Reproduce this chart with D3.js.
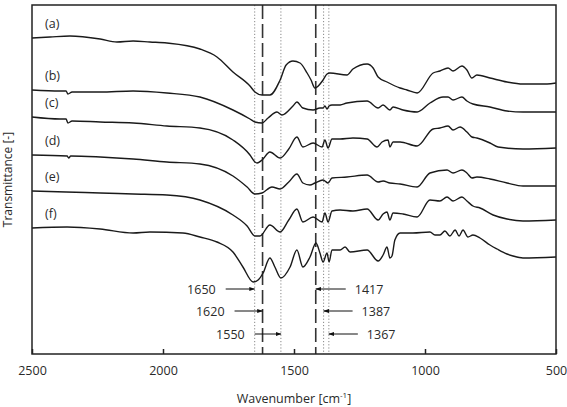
<!DOCTYPE html>
<html><head><meta charset="utf-8">
<script src="https://cdn.jsdelivr.net/npm/d3@7"></script>
<style>
body{margin:0;background:#fff}
svg{display:block}
text{font-family:"Open Sans",sans-serif;fill:#2a2a2a}
</style>
</head><body>
<svg id="chart" width="567" height="407"></svg>
<script>
// ---------- data (wavenumber cm-1, transmittance in arbitrary offset units) ----------
const xTicks = [2500, 2000, 1500, 1000, 500];
const seriesLabels = ["(a)", "(b)", "(c)", "(d)", "(e)", "(f)"];

const spectrumA = [[2500,316],[2431,317],[2355,318],[2240,315],[2176,312],[2114,313],[2050,312],[1985,311],[1859,305],[1794,297],[1733,282],[1668,268],[1649,262],[1622,259],[1592,259],[1553,274],[1530,289],[1504,293],[1477,291],[1450,281],[1435,274],[1420,266],[1389,274],[1374,280],[1363,281],[1298,279],[1275,285],[1221,290],[1198,286],[1179,277],[1145,272],[1095,266],[1069,264],[1030,261],[969,281],[943,283],[912,286],[893,283],[859,288],[840,284],[821,276],[802,279],[752,276],[687,272],[626,270],[534,270],[500,271]];
const spectrumB = [[2500,264],[2393,263],[2370,263],[2363,260],[2347,262],[2240,262],[2114,263],[1985,261],[1859,257],[1733,244],[1668,235],[1649,232],[1622,231],[1599,236],[1565,242],[1546,239],[1504,248],[1489,252],[1466,246],[1427,244],[1401,246],[1389,246],[1382,248],[1374,245],[1366,248],[1355,249],[1324,249],[1298,251],[1221,253],[1179,246],[1160,249],[1134,244],[1122,247],[1084,244],[1030,242],[981,251],[931,257],[912,257],[893,254],[859,257],[840,253],[817,250],[752,247],[687,243],[626,242],[500,242]];
const spectrumC = [[2500,237],[2393,235],[2370,235],[2363,231],[2347,233],[2240,232],[2114,231],[1985,228],[1859,226],[1733,214],[1668,199],[1649,192],[1641,191],[1622,194],[1592,202],[1553,196],[1520,205],[1489,217],[1466,207],[1427,211],[1393,207],[1382,214],[1370,206],[1355,215],[1324,215],[1275,216],[1221,215],[1183,207],[1164,212],[1141,214],[1134,207],[1122,212],[1095,212],[1030,208],[969,225],[943,226],[912,228],[893,224],[866,227],[840,222],[821,217],[802,216],[752,211],[721,207],[626,205],[500,206]];
const spectrumD = [[2500,199],[2366,198],[2360,196],[2352,198],[2240,197],[2114,195],[1985,192],[1859,190],[1733,178],[1679,167],[1649,160],[1622,161],[1584,167],[1553,165],[1520,172],[1489,180],[1466,171],[1439,169],[1420,171],[1389,174],[1382,173],[1370,171],[1355,176],[1298,177],[1221,179],[1179,172],[1160,173],[1134,171],[1095,170],[1030,167],[981,181],[916,184],[893,181],[859,184],[840,181],[821,176],[802,177],[752,175],[687,171],[626,168],[500,168]];
const spectrumE = [[2500,163],[2370,162],[2240,161],[2114,160],[1985,159],[1859,154],[1733,139],[1679,128],[1649,118],[1630,118],[1592,129],[1553,122],[1520,134],[1489,145],[1466,132],[1427,137],[1393,132],[1382,141],[1370,132],[1355,143],[1324,144],[1275,143],[1221,145],[1179,134],[1160,140],[1145,142],[1134,134],[1122,141],[1084,140],[1030,137],[981,154],[943,153],[916,157],[893,153],[859,157],[840,153],[817,148],[790,146],[740,139],[687,135],[626,133],[500,134]];
const spectrumF = [[2500,126],[2366,127],[2240,125],[2114,121],[2050,122],[1924,121],[1859,117],[1794,112],[1733,102],[1695,87],[1656,72],[1637,74],[1618,81],[1592,96],[1573,87],[1550,76],[1515,87],[1489,104],[1466,87],[1439,97],[1416,111],[1401,101],[1389,92],[1374,101],[1366,92],[1355,104],[1324,104],[1305,107],[1286,102],[1221,104],[1179,93],[1160,99],[1145,107],[1134,96],[1126,98],[1115,114],[1095,121],[1046,121],[981,122],[962,119],[943,119],[924,123],[905,118],[885,124],[870,118],[855,124],[836,117],[817,119],[790,116],[752,109],[725,105],[687,100],[664,98],[626,96],[500,97]];
const spectra = [spectrumA, spectrumB, spectrumC, spectrumD, spectrumE, spectrumF];

const peakLines  = [1650, 1620, 1550, 1417, 1387, 1367];
const peakStyles = ["dot", "dash", "dot", "dash", "dot", "dot"];
const peakLabels = ["1650", "1620", "1550", "1417", "1387", "1367"];

// ---------- layout ----------
const svg = d3.select("#chart");
const m = {left: 32, right: 11, top: 5, bottom: 53};
const W = 567, H = 407;
const x = d3.scaleLinear().domain([2500, 500]).range([m.left, W - m.right]);
const y = d3.scaleLinear().domain([0, 349]).range([H - m.bottom, m.top]);

// peak marker lines
svg.append("g").selectAll("line").data(peakLines).join("line")
  .attr("x1", d => x(d)).attr("x2", d => x(d))
  .attr("y1", y(349)).attr("y2", y(0))
  .attr("stroke", (d, i) => peakStyles[i] === "dash" ? "#333" : "#888")
  .attr("stroke-width", (d, i) => peakStyles[i] === "dash" ? 1.6 : 1)
  .attr("stroke-dasharray", (d, i) => peakStyles[i] === "dash" ? "14,5" : "1.2,2");

// spectra
const line = d3.line().x(d => x(d[0])).y(d => y(d[1])).curve(d3.curveMonotoneX);
svg.append("g").selectAll("path").data(spectra).join("path")
  .attr("d", line).attr("fill", "none").attr("stroke", "#1a1a1a")
  .attr("stroke-width", 1.4).attr("stroke-linejoin", "round");

// series labels
svg.append("g").selectAll("text").data(spectra).join("text")
  .attr("x", 45).attr("y", d => y(d[0][1]) - 10)
  .attr("font-size", 12.5).text((d, i) => seriesLabels[i]);

// frame
svg.append("rect").attr("x", m.left).attr("y", m.top)
  .attr("width", W - m.left - m.right).attr("height", H - m.top - m.bottom)
  .attr("fill", "none").attr("stroke", "#222").attr("stroke-width", 1.5);

// x axis (ticks inward)
const xAxis = d3.axisBottom(x).tickValues(xTicks).tickFormat(d3.format("d"))
  .tickSizeInner(-5).tickSizeOuter(0).tickPadding(12);
const gx = svg.append("g").attr("transform", `translate(0,${H - m.bottom})`).call(xAxis);
gx.select(".domain").remove();
gx.selectAll(".tick line").attr("stroke", "#222").attr("stroke-width", 1.5);
gx.selectAll(".tick text").attr("font-size", 12.5).attr("font-family", "Open Sans, sans-serif").attr("fill", "#2a2a2a");

// axis titles
const xt = svg.append("text").attr("x", (m.left + W - m.right) / 2).attr("y", 403)
  .attr("text-anchor", "middle").attr("font-size", 12.5);
xt.append("tspan").text("Wavenumber [cm");
xt.append("tspan").attr("font-size", 8).attr("dy", -5).text("-1");
xt.append("tspan").attr("dy", 5).text("]");
svg.append("text").attr("transform", `translate(12,${(m.top + H - m.bottom) / 2}) rotate(-90)`)
  .attr("text-anchor", "middle").attr("font-size", 12).text("Transmittance [-]");

// annotations with arrows
const defs = svg.append("defs");
defs.append("marker").attr("id", "ah").attr("viewBox", "0 0 10 10").attr("refX", 9).attr("refY", 5)
  .attr("markerWidth", 6).attr("markerHeight", 6).attr("orient", "auto-start-reverse")
  .append("path").attr("d", "M0,1.5L10,5L0,8.5Z").attr("fill", "#111");

const rows = [289, 311, 334];
const ann = [
  {i: 0, row: 0, from: -29, side: "left"},
  {i: 1, row: 1, from: -28, side: "left"},
  {i: 2, row: 2, fromWn: 1650, side: "left"},
  {i: 3, row: 0, from: 30, side: "right"},
  {i: 4, row: 1, from: 29, side: "right"},
  {i: 5, row: 2, from: 29, side: "right"}
];
const ga = svg.append("g");
ann.forEach(a => {
  const hx = x(peakLines[a.i]);
  const tx = a.fromWn !== undefined ? x(a.fromWn) : hx + a.from;
  const yy = rows[a.row];
  ga.append("line").attr("x1", tx).attr("x2", hx).attr("y1", yy).attr("y2", yy)
    .attr("stroke", "#111").attr("stroke-width", 1).attr("marker-end", "url(#ah)");
  const left = a.side === "left";
  const textX = left ? Math.min(tx, hx) - 10 : Math.max(tx, hx) + 9;
  ga.append("text").attr("x", textX).attr("y", yy + 4.5)
    .attr("text-anchor", left ? "end" : "start").attr("font-size", 12.5)
    .text(peakLabels[a.i]);
});
</script>
</body></html>
